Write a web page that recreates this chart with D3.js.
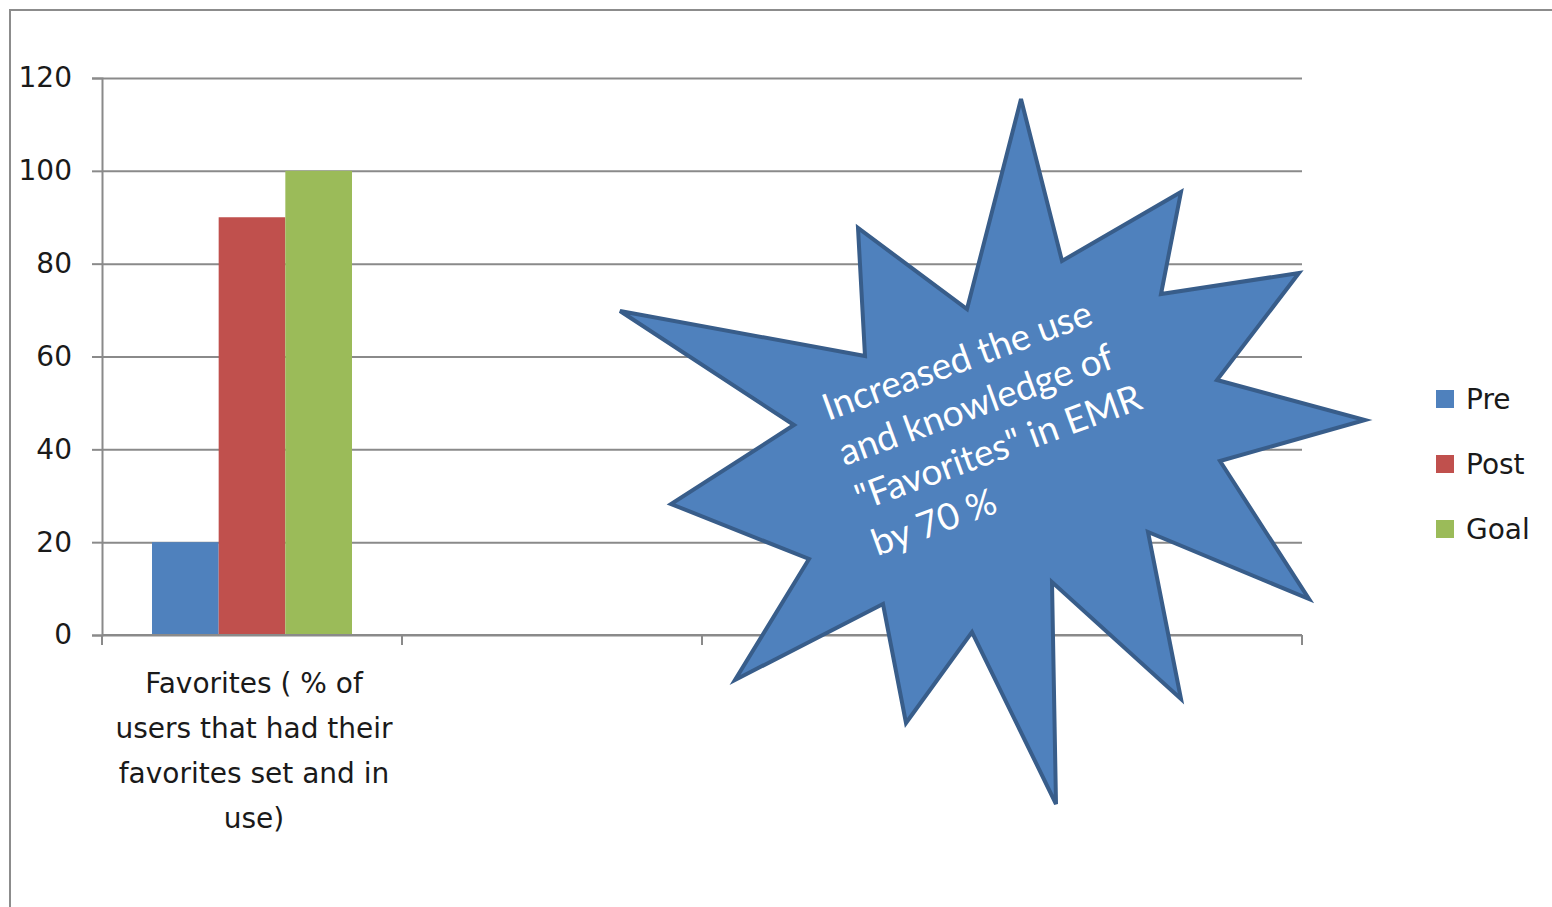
<!DOCTYPE html>
<html>
<head>
<meta charset="utf-8">
<script src="https://cdn.jsdelivr.net/npm/d3@7"></script>
<style>
  body { margin: 0; background: #fff; }
  text { font-family: "DejaVu Sans", sans-serif; }
</style>
</head>
<body>
<div id="chart"></div>
<script>
var categories = ["Favorites ( % of users that had their favorites set and in use)", "", "", ""];
var categoryLines = [["Favorites ( % of", "users that had their", "favorites set and in", "use)"], [], [], []];
var seriesNames = ["Pre", "Post", "Goal"];
var pre = [20, null, null, null];
var post = [90, null, null, null];
var goal = [100, null, null, null];
var yTicks = [0, 20, 40, 60, 80, 100, 120];
var calloutLines = ["Increased the use", "and knowledge of", "\"Favorites\" in EMR", "by 70 %"];

var colors = ["#4F81BD", "#C0504D", "#9BBB59"];
var width = 1552, height = 907;
var plot = {left: 102, right: 1302, top: 78, bottom: 635};

var svg = d3.select('#chart').append('svg')
    .attr('width', width)
    .attr('height', height);

// outer chart frame
svg.append('rect')
    .attr('x', 10).attr('y', 10)
    .attr('width', 1600).attr('height', 1000)
    .style('fill', 'none')
    .style('stroke', '#8c8c8c')
    .style('stroke-width', 2);

var x = d3.scaleBand()
    .domain(d3.range(categories.length))
    .range([plot.left, plot.right]);

var y = d3.scaleLinear()
    .domain([0, 120])
    .range([plot.bottom, plot.top]);

var xInner = d3.scaleBand()
    .domain(seriesNames)
    .range([0, x.bandwidth()])
    .paddingOuter(0.75)
    .paddingInner(0);

// gridlines
svg.append('g')
    .attr('transform', 'translate(' + plot.left + ',0)')
    .call(d3.axisLeft(y).tickValues(yTicks).tickSize(-(plot.right - plot.left)).tickFormat(''))
    .call(function(g) {
        g.select('.domain').remove();
        g.selectAll('line').style('stroke', '#8a8a8a').style('stroke-width', 2);
    });

// y axis
svg.append('g')
    .attr('transform', 'translate(' + plot.left + ',0)')
    .call(d3.axisLeft(y).tickValues(yTicks).tickSize(10).tickPadding(20))
    .call(function(g) {
        g.select('.domain').style('stroke', '#8a8a8a').style('stroke-width', 2);
        g.selectAll('line').style('stroke', '#8a8a8a').style('stroke-width', 2);
        g.selectAll('text').style('font-size', '28px').style('fill', '#1a1a1a');
    });

// bars
var seriesData = [pre, post, goal];
seriesData.forEach(function(vals, s) {
    svg.append('g').selectAll('rect')
        .data(vals.map(function(v, i) { return {i: i, v: v}; }).filter(function(d) { return d.v != null; }))
        .enter().append('rect')
            .attr('x', function(d) { return x(d.i) + xInner(seriesNames[s]); })
            .attr('y', function(d) { return y(d.v); })
            .attr('width', xInner.bandwidth())
            .attr('height', function(d) { return y(0) - y(d.v); })
            .style('fill', colors[s]);
});

// x axis
var xTickPos = d3.range(categories.length + 1).map(function(i) {
    return i < categories.length ? x(i) : x(categories.length - 1) + x.bandwidth();
});
var xAxis = svg.append('g');
xAxis.append('line')
    .attr('x1', plot.left).attr('x2', plot.right)
    .attr('y1', y(0)).attr('y2', y(0))
    .style('stroke', '#8a8a8a').style('stroke-width', 2);
xAxis.selectAll('line.tick')
    .data(xTickPos)
    .enter().append('line')
        .attr('class', 'tick')
        .attr('x1', function(d) { return d; }).attr('x2', function(d) { return d; })
        .attr('y1', y(0)).attr('y2', y(0) + 10)
        .style('stroke', '#8a8a8a').style('stroke-width', 2);

categoryLines.forEach(function(lines, i) {
    svg.append('text')
        .attr('x', x(i) + x.bandwidth() / 2 + 2)
        .attr('y', 693)
        .attr('text-anchor', 'middle')
        .style('font-size', '28px')
        .style('fill', '#1a1a1a')
        .selectAll('tspan').data(lines)
        .enter().append('tspan')
            .attr('x', x(i) + x.bandwidth() / 2 + 2)
            .attr('dy', function(d, j) { return j === 0 ? 0 : 45; })
            .text(function(d) { return d; });
});

// legend
var legend = svg.append('g').attr('transform', 'translate(1436,390)');
seriesNames.forEach(function(name, i) {
    var row = legend.append('g').attr('transform', 'translate(0,' + i * 65 + ')');
    row.append('rect')
        .attr('width', 18).attr('height', 18)
        .style('fill', colors[i]);
    row.append('text')
        .attr('x', 30).attr('y', 19)
        .style('font-size', '28px')
        .style('fill', '#1a1a1a')
        .text(name);
});

// callout star
var star = [[1021, 99], [1062, 261], [1181, 192], [1161, 294], [1299, 273], [1217, 380],
            [1365, 420], [1220, 461], [1309, 599], [1148, 532], [1181, 699], [1052, 582],
            [1056, 804], [972, 632], [906, 723], [883, 604], [735, 680], [809, 559],
            [671, 504], [794, 425], [620, 311], [865, 356], [858, 228], [967, 309]];
svg.append('path')
    .attr('d', d3.line()(star) + 'Z')
    .style('fill', '#4F81BD')
    .style('stroke', '#385D8A')
    .style('stroke-width', 4)
    .style('stroke-linejoin', 'miter');

var callout = svg.append('text')
    .attr('transform', 'translate(828,421) rotate(-20)')
    .style('font-family', 'Lato, sans-serif')
    .style('font-size', '37px')
    .style('fill', '#fff');
callout.selectAll('tspan').data(calloutLines)
    .enter().append('tspan')
        .attr('x', 0)
        .attr('dy', function(d, i) { return i === 0 ? 0 : 48; })
        .text(function(d) { return d; });
</script>
</body>
</html>
